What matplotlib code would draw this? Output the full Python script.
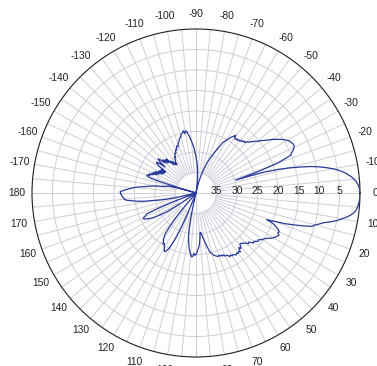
import numpy as np
import matplotlib
matplotlib.use('Agg')
import matplotlib.pyplot as plt
from matplotlib.transforms import offset_copy

plt.rcParams['font.family'] = ['Liberation Sans', 'DejaVu Sans']

# measured pattern: azimuth (deg, clockwise from boresight) and attenuation (dB)
angle_deg = [
    -180, -179, -178, -177, -176, -175, -174, -173, -172, -171, -170, -169, -168, -167, -166, -165, -164, -163.5,
    -163, -162.5, -162, -161, -160, -159, -158, -157, -156, -155, -154, -153, -152, -151, -150, -149, -148, -147,
    -146, -145, -144, -143, -142, -141, -140, -139, -138, -137, -136, -135, -134, -133, -132, -131, -130, -129,
    -128, -127, -126, -125, -124, -123, -122, -121, -120, -119, -118, -117, -116, -115, -114, -113, -112, -111,
    -110, -109, -108, -107, -106, -105, -104, -103, -102, -101.5, -100.5, -99.5, -98.5, -97.5, -96.5, -95.5,
    -94.5, -93.5, -92.5, -91.5, -90.5, -89.5, -88.5, -87.5, -86.5, -85.5, -84.5, -83.5, -82.5, -81.5, -80.5,
    -79, -78, -77, -76, -75, -74, -73, -72, -71, -70, -69, -68, -67, -66, -65, -64, -63, -62, -61, -60, -59, -58,
    -57, -56, -55.5, -55, -54, -53, -52, -51, -50, -49, -48, -47, -46, -45, -44, -43, -42, -41, -40, -39, -38,
    -37, -36, -35, -34, -33, -32, -31, -30, -29, -28, -27, -26, -25, -24, -23, -22, -21.5, -21, -20.5, -20, -19,
    -18.5, -18, -17.5, -17, -16, -15, -14, -13, -12, -11, -10, -9, -8, -7, -6, -5, -4, -3, -2, -1,
    0, 1, 2, 3, 4, 5, 6, 7, 8, 9, 10, 11, 12, 13, 14, 15, 16, 17, 18, 19, 19.5, 20, 20.7, 21.2,
    22, 23, 24, 25, 26, 27, 28, 29, 30, 31, 32, 33, 34, 35, 36, 37, 38, 39, 40, 41, 42, 43, 44, 45, 46, 47, 48,
    49, 50, 51, 52, 53, 54, 55, 56, 57, 58, 59, 60, 61, 62, 63, 64, 65, 66, 67, 68, 69, 70, 71, 72, 73, 74, 75,
    76, 77, 78, 79, 80, 81, 82, 83, 84, 85, 86, 87, 88, 89, 90, 91, 92, 93, 94, 95, 96, 97, 98, 99, 100, 101,
    102, 103, 104, 111, 112, 113, 114, 115, 116, 117, 118, 119, 120, 121, 122, 123, 124, 125, 126, 127, 128,
    129, 130, 131, 145, 146, 147, 148, 149, 150, 151, 152, 153, 154, 155, 156, 157, 158, 159, 160, 166, 167,
    168, 169, 170, 171, 172, 173, 174, 175, 176, 177, 178, 179, 180,
]
atten_db = [
    21.6, 21.5, 22.3, 23.1, 24.0, 24.8, 25.9, 27.3, 28.2, 29.1, 30.2, 31.5, 32.3, 32.6, 33.2, 35.0, 38.0, 40,
    36.0, 31.0, 28.5, 27.5, 27.2, 28.0, 27.6, 28.6, 28.2, 29.5, 28.4, 29.8, 28.9, 30.5, 29.4, 30.8, 29.6, 30.9,
    29.8, 31.0, 29.0, 28.0, 27.8, 28.5, 30.1, 28.4, 27.5, 28.2, 29.4, 28.6, 29.8, 28.9, 30.0, 29.0, 30.4, 30.0,
    31.2, 30.4, 31.5, 31.0, 31.7, 30.8, 30.5, 29.8, 30.0, 29.4, 29.0, 29.2, 28.6, 28.3, 28.5, 27.8, 27.6, 27.9,
    27.2, 27.0, 26.6, 26.2, 25.9, 25.8, 25.2, 25.0, 24.8, 24.5, 25.3, 24.6, 24.9, 25.6, 26.2, 27.0,
    27.6, 28.4, 29.0, 30.2, 30.6, 31.8, 32.2, 33.4, 33.9, 35.2, 35.6, 36.8, 37.5, 38.6, 40,
    40, 38.8, 38.2, 37.2, 36.6, 35.6, 34.9, 33.9, 33.2, 32.2, 31.7, 30.8, 30.3, 29.4, 28.8, 28.0, 27.0, 26.0,
    25.6, 25.0, 24.6, 24.0,
    23.6, 23.2, 22.9, 23.5, 23.8, 23.4, 23.7, 23.3, 23.5, 23.0, 23.2, 22.7, 22.9, 22.3, 22.2, 21.6, 21.3, 20.7,
    20.4, 19.7, 19.2,
    18.6, 17.9, 17.2, 16.6, 16.0, 15.3, 14.8, 14.3, 13.9, 13.7, 13.5, 13.4, 13.6, 14.0, 14.6, 15.0, 15.6, 16.8,
    18.0, 19.5, 24.0,
    27.5, 29.8, 26.0, 22.4, 19.0, 16.3, 13.8, 11.3, 9.3, 7.6, 6.0, 4.7, 3.6, 2.7, 1.9, 1.3, 0.8, 0.45, 0.2, 0.05,
    0.0, 0.0, 0.05, 0.15, 0.3, 0.45, 0.7, 1.1, 1.8, 2.7, 3.8, 4.9, 6.3, 7.9, 8.9, 9.9, 10.5, 12.5, 14.8, 17.0,
    18.5, 20.0, 21.6, 20.5,
    19.4, 18.7, 18.0, 17.6, 17.8, 17.3, 17.6, 17.8, 18.2, 18.6, 19.2, 19.6, 20.0, 20.2, 20.6, 21.0, 20.8, 21.3,
    21.6, 21.4, 22.0, 22.4, 22.2, 22.7, 23.0, 23.2, 23.5,
    23.6, 23.2, 22.6, 23.1, 22.0, 22.4, 22.0, 22.3, 22.0, 22.2, 22.5, 22.3, 22.7, 22.4, 22.9, 23.1, 23.0, 23.5,
    23.3, 23.7, 23.5, 23.8, 23.6, 23.8, 24.0, 24.2, 24.6,
    24.9, 25.4, 26.4, 27.2, 28.0, 28.8, 29.6, 30.2, 30.4, 29.0, 27.6, 26.8, 26.2, 25.6, 25.0, 24.8, 25.3, 24.5,
    24.4, 25.0, 25.6, 26.4, 27.4, 28.5, 29.6, 31.5,
    34.0, 38.0, 40, 40, 35.0, 31.0, 28.3, 26.5, 25.0, 24.2, 23.8, 24.0, 24.6, 24.9, 25.5, 25.2, 25.9, 26.2,
    26.8, 27.5, 29.5,
    32.0, 35.0, 40, 40, 36.0, 32.0, 30.5, 29.2, 28.0, 27.2, 26.6, 26.0, 25.7, 26.0, 26.6, 27.0, 30.0, 34.0,
    40, 40, 35.0,
    32.7, 31.0, 29.4, 27.2, 25.5, 24.3, 23.0, 22.5, 22.3, 22.0, 21.9, 21.7, 21.6,
]

ring_values = [35, 30, 25, 20, 15, 10, 5]
theta_ticks = list(range(0, 360, 10))
theta_labels = [str(a if a <= 180 else a - 360) for a in theta_ticks]

grid_color = '#cdced8'
line_color = '#27399a'

fig = plt.figure(figsize=(3.77, 3.66), dpi=100)
ax = fig.add_axes([32 / 377, 9 / 366, 328 / 377, 328 / 366], projection='polar')
ax.set_theta_zero_location('E')
ax.set_theta_direction(-1)
ax.set_ylim(40, 0)

ax.set_xticks([])
ax.set_yticks(ring_values)
ax.set_yticklabels([])
ax.tick_params(length=0)
ax.yaxis.grid(True, color=grid_color, linewidth=0.7)
ax.spines['polar'].set_color('#1e1e1e')
ax.spines['polar'].set_linewidth(0.8)

# spokes every 5 degrees, only the quadrant lines run into the centre
for a in range(0, 360, 5):
    t = np.deg2rad(a)
    r0 = 40 if a % 90 == 0 else 35
    ax.plot([t, t], [r0, 0], color=grid_color, linewidth=0.7, zorder=1)

theta = np.deg2rad(angle_deg)
r = np.minimum(np.array(atten_db), 40)
ax.plot(theta, r, color=line_color, linewidth=0.9, zorder=3)

# radial labels along the 0 degree line
lab_tr = offset_copy(ax.transData, fig=fig, x=0, y=2, units='dots')
for v in ring_values:
    ax.text(0, v, str(v), transform=lab_tr, ha='center', va='center',
            fontsize=7.4, color='#222222', zorder=4)

# azimuth labels outside the rim
for a, lab in zip(theta_ticks, theta_labels):
    t = np.deg2rad(a)
    ax.text(0.5 + 0.547 * np.cos(t), 0.5 - 0.547 * np.sin(t), lab,
            transform=ax.transAxes, ha='center', va='center',
            fontsize=7.4, color='#222222', clip_on=False)

fig.savefig('out.png', dpi=100)
plt.close(fig)
